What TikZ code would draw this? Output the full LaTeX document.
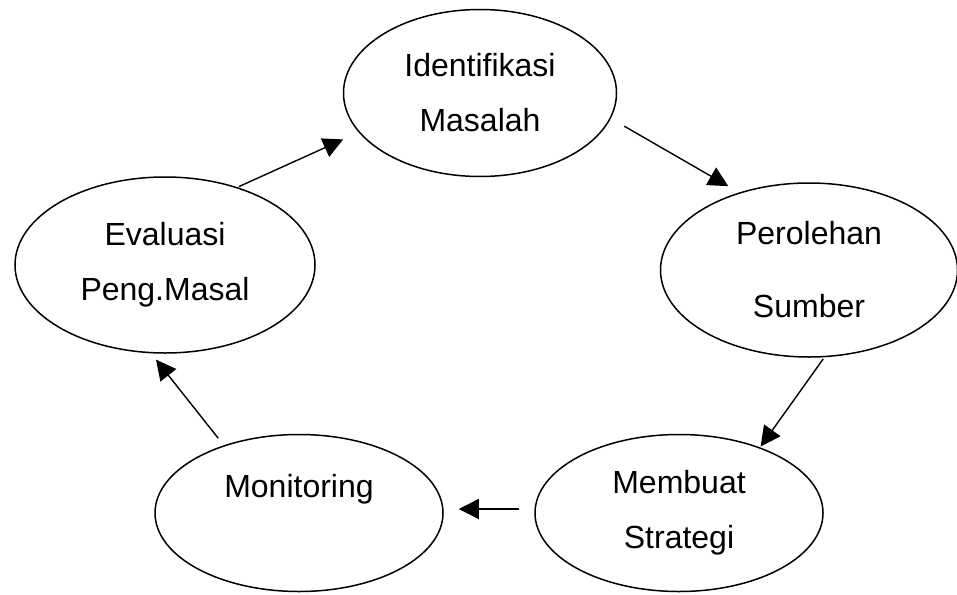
\documentclass[tikz,border=0pt]{standalone}
\usepackage{fontspec}
\setmainfont{Liberation Sans}
\usepackage{tikz}
\usetikzlibrary{arrows.meta,shapes.geometric}

\begin{document}
\begin{tikzpicture}[x=1pt,y=-1pt,
  tahap/.style={draw,ellipse,line width=1.5pt,inner sep=0pt,align=center,
    font=\fontsize{32}{55}\selectfont},
  alur/.style={-{Triangle[length=20pt,width=20pt]},line width=1.4pt}]
  \useasboundingbox (0,0) rectangle (957,594);
  % tahapan
  \node[tahap,minimum width=273pt,minimum height=167pt] (ident) at (480,93) {Identifikasi\\Masalah};
  \node[tahap,minimum width=297pt,minimum height=174pt] (sumber) at (809,270) {Perolehan\\[18pt]Sumber};
  \node[tahap,minimum width=288pt,minimum height=157pt] (strategi) at (679,513) {Membuat\\Strategi};
  \node[tahap,minimum width=288pt,minimum height=157pt] (monitor) at (299,513) {Monitoring\\~};
  \node[tahap,minimum width=300pt,minimum height=176pt] (evaluasi) at (165,265) {Evaluasi\\Peng.Masal};
  % alur siklus
  \draw[alur,shorten <=15.5pt,shorten >=12.5pt] (ident.-11.5) -- (sumber.132.4);
  \draw[alur,shorten <=2pt,shorten >=1pt] (sumber.-80.2) -- (strategi.39);
  \draw[alur,shorten <=15pt,shorten >=15pt] ([yshift=4pt]strategi.west) -- ([yshift=4pt]monitor.east);
  \draw[alur,shorten <=9pt,shorten >=8pt] (monitor.138) -- (evaluasi.-99.1);
  \draw[alur,shorten <=1.5pt,shorten >=17pt] (evaluasi.47.2) -- (ident.-162.7);
\end{tikzpicture}
\end{document}
